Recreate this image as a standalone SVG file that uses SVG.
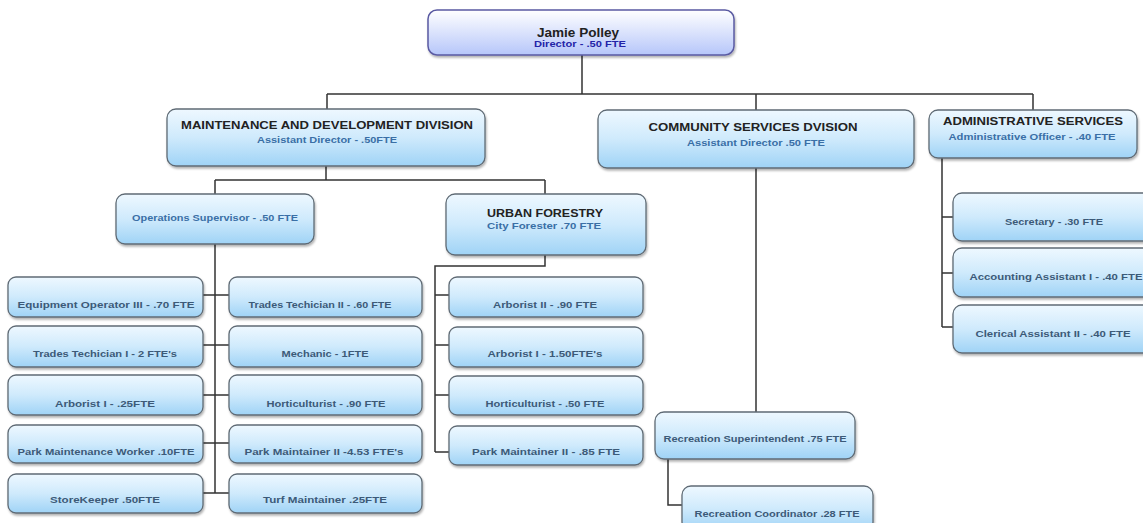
<svg xmlns="http://www.w3.org/2000/svg" width="1143" height="523" viewBox="0 0 1143 523">
<defs>
<linearGradient id="gb" x1="0" y1="0" x2="0" y2="1">
<stop offset="0" stop-color="#eef8ff"/>
<stop offset="0.5" stop-color="#cfeafc"/>
<stop offset="1" stop-color="#9fd3f6"/>
</linearGradient>
<linearGradient id="gp" x1="0" y1="0" x2="0" y2="1">
<stop offset="0" stop-color="#ffffff"/>
<stop offset="1" stop-color="#b6c6fa"/>
</linearGradient>
<filter id="sh" x="-5%" y="-10%" width="115%" height="130%">
<feDropShadow dx="1" dy="2" stdDeviation="1.2" flood-color="#000" flood-opacity="0.3"/>
</filter>
</defs>
<style>
.b{fill:url(#gb);stroke:#5f6b75;stroke-width:1.3;filter:url(#sh)}
.p{fill:url(#gp);stroke:#5a5aa2;stroke-width:1.5;filter:url(#sh)}
text{font-family:"Liberation Sans",Arial,sans-serif;font-weight:bold;text-anchor:middle}
.t{font-size:11px;fill:#222}
.s{font-size:9.5px;fill:#3a6fa6}
.n{font-size:9.5px;fill:#3c5a78}
.c{fill:none;stroke:#333;stroke-width:1.5}
</style>
<g id="connectors">
<path class="c" d="M582 55V94M327 94H1033M327 94V109M756 94V110M1033 94V110"/>
<path class="c" d="M326 166V180M215 180H545M215 180V194M545 180V194"/>
<path class="c" d="M215 244V493M203 295H229M203 345H229M203 395H229M203 443H229M203 493H229"/>
<path class="c" d="M545 255V266H435V452M435 295H449M435 345H449M435 395H449M435 452H449"/>
<path class="c" d="M756 168V412M668 459V505H682"/>
<path class="c" d="M942 158V327M942 217H953M942 273H953M942 327H953"/>
</g>
<g id="director">
<rect class="p" x="428" y="10" width="306" height="45" rx="9"/>
<text x="578" y="37" font-size="12" fill="#222" textLength="82" lengthAdjust="spacingAndGlyphs">Jamie Polley</text>
<text x="580" y="47" font-size="9.5" fill="#2424a8" textLength="92" lengthAdjust="spacingAndGlyphs">Director - .50 FTE</text>
</g>
<g id="maint">
<rect class="b" x="167" y="109" width="318" height="57" rx="9"/>
<text class="t" x="327" y="129" textLength="292" lengthAdjust="spacingAndGlyphs">MAINTENANCE AND DEVELOPMENT DIVISION</text>
<text class="s" x="327" y="143" textLength="140" lengthAdjust="spacingAndGlyphs">Assistant Director - .50FTE</text>
</g>
<g id="community">
<rect class="b" x="598" y="110" width="316" height="58" rx="9"/>
<text class="t" x="753" y="131" textLength="209" lengthAdjust="spacingAndGlyphs">COMMUNITY SERVICES DVISION</text>
<text class="s" x="756" y="146" textLength="138" lengthAdjust="spacingAndGlyphs">Assistant Director .50 FTE</text>
</g>
<g id="admin">
<rect class="b" x="929" y="110" width="208" height="48" rx="9"/>
<text class="t" x="1033" y="125" textLength="180" lengthAdjust="spacingAndGlyphs">ADMINISTRATIVE SERVICES</text>
<text class="s" x="1032" y="140" textLength="167" lengthAdjust="spacingAndGlyphs">Administrative Officer - .40 FTE</text>
</g>
<g id="ops">
<rect class="b" x="116" y="194" width="198" height="50" rx="9"/>
<text class="s" x="215" y="221" textLength="166" lengthAdjust="spacingAndGlyphs">Operations Supervisor - .50 FTE</text>
</g>
<g id="urban">
<rect class="b" x="446" y="194" width="200" height="61" rx="9"/>
<text class="t" x="545" y="217" textLength="116" lengthAdjust="spacingAndGlyphs">URBAN FORESTRY</text>
<text class="s" x="544" y="229" textLength="114" lengthAdjust="spacingAndGlyphs">City Forester .70 FTE</text>
</g>
<g id="l1"><rect class="b" x="8" y="277" width="195" height="40" rx="8"/><text class="n" x="106" y="308" textLength="177" lengthAdjust="spacingAndGlyphs">Equipment Operator III - .70 FTE</text></g>
<g id="l2"><rect class="b" x="8" y="326" width="195" height="41" rx="8"/><text class="n" x="105" y="357" textLength="144" lengthAdjust="spacingAndGlyphs">Trades Techician I - 2 FTE's</text></g>
<g id="l3"><rect class="b" x="8" y="375" width="195" height="40" rx="8"/><text class="n" x="105" y="407" textLength="100" lengthAdjust="spacingAndGlyphs">Arborist I - .25FTE</text></g>
<g id="l4"><rect class="b" x="8" y="425" width="195" height="38" rx="8"/><text class="n" x="106" y="455" textLength="177" lengthAdjust="spacingAndGlyphs">Park Maintenance Worker .10FTE</text></g>
<g id="l5"><rect class="b" x="8" y="474" width="195" height="39" rx="8"/><text class="n" x="105" y="503" textLength="110" lengthAdjust="spacingAndGlyphs">StoreKeeper .50FTE</text></g>
<g id="r1"><rect class="b" x="229" y="277" width="193" height="40" rx="8"/><text class="n" x="320" y="308" textLength="143" lengthAdjust="spacingAndGlyphs">Trades Techician II - .60 FTE</text></g>
<g id="r2"><rect class="b" x="229" y="326" width="193" height="41" rx="8"/><text class="n" x="325" y="357" textLength="87" lengthAdjust="spacingAndGlyphs">Mechanic - 1FTE</text></g>
<g id="r3"><rect class="b" x="229" y="375" width="193" height="40" rx="8"/><text class="n" x="326" y="407" textLength="119" lengthAdjust="spacingAndGlyphs">Horticulturist - .90 FTE</text></g>
<g id="r4"><rect class="b" x="229" y="425" width="193" height="38" rx="8"/><text class="n" x="324" y="455" textLength="159" lengthAdjust="spacingAndGlyphs">Park Maintainer II -4.53 FTE's</text></g>
<g id="r5"><rect class="b" x="229" y="474" width="193" height="39" rx="8"/><text class="n" x="325" y="503" textLength="124" lengthAdjust="spacingAndGlyphs">Turf Maintainer .25FTE</text></g>
<g id="u1"><rect class="b" x="449" y="277" width="194" height="40" rx="8"/><text class="n" x="545" y="308" textLength="104" lengthAdjust="spacingAndGlyphs">Arborist II - .90 FTE</text></g>
<g id="u2"><rect class="b" x="449" y="327" width="194" height="40" rx="8"/><text class="n" x="545" y="357" textLength="115" lengthAdjust="spacingAndGlyphs">Arborist I - 1.50FTE's</text></g>
<g id="u3"><rect class="b" x="449" y="376" width="194" height="39" rx="8"/><text class="n" x="545" y="407" textLength="119" lengthAdjust="spacingAndGlyphs">Horticulturist - .50 FTE</text></g>
<g id="u4"><rect class="b" x="449" y="426" width="194" height="39" rx="8"/><text class="n" x="546" y="455" textLength="148" lengthAdjust="spacingAndGlyphs">Park Maintainer II - .85 FTE</text></g>
<g id="rs"><rect class="b" x="655" y="412" width="200" height="47" rx="9"/><text class="n" x="755" y="442" textLength="183" lengthAdjust="spacingAndGlyphs">Recreation Superintendent .75 FTE</text></g>
<g id="rc"><rect class="b" x="682" y="486" width="191" height="45" rx="9"/><text class="n" x="777" y="517" textLength="165" lengthAdjust="spacingAndGlyphs">Recreation Coordinator .28 FTE</text></g>
<g id="a1"><rect class="b" x="953" y="193" width="202" height="48" rx="9"/><text class="n" x="1054" y="225" textLength="98" lengthAdjust="spacingAndGlyphs">Secretary - .30 FTE</text></g>
<g id="a2"><rect class="b" x="953" y="248" width="202" height="49" rx="9"/><text class="n" x="1056" y="280" textLength="173" lengthAdjust="spacingAndGlyphs">Accounting Assistant I - .40 FTE</text></g>
<g id="a3"><rect class="b" x="953" y="305" width="202" height="48" rx="9"/><text class="n" x="1053" y="337" textLength="155" lengthAdjust="spacingAndGlyphs">Clerical Assistant II - .40 FTE</text></g>
</svg>
